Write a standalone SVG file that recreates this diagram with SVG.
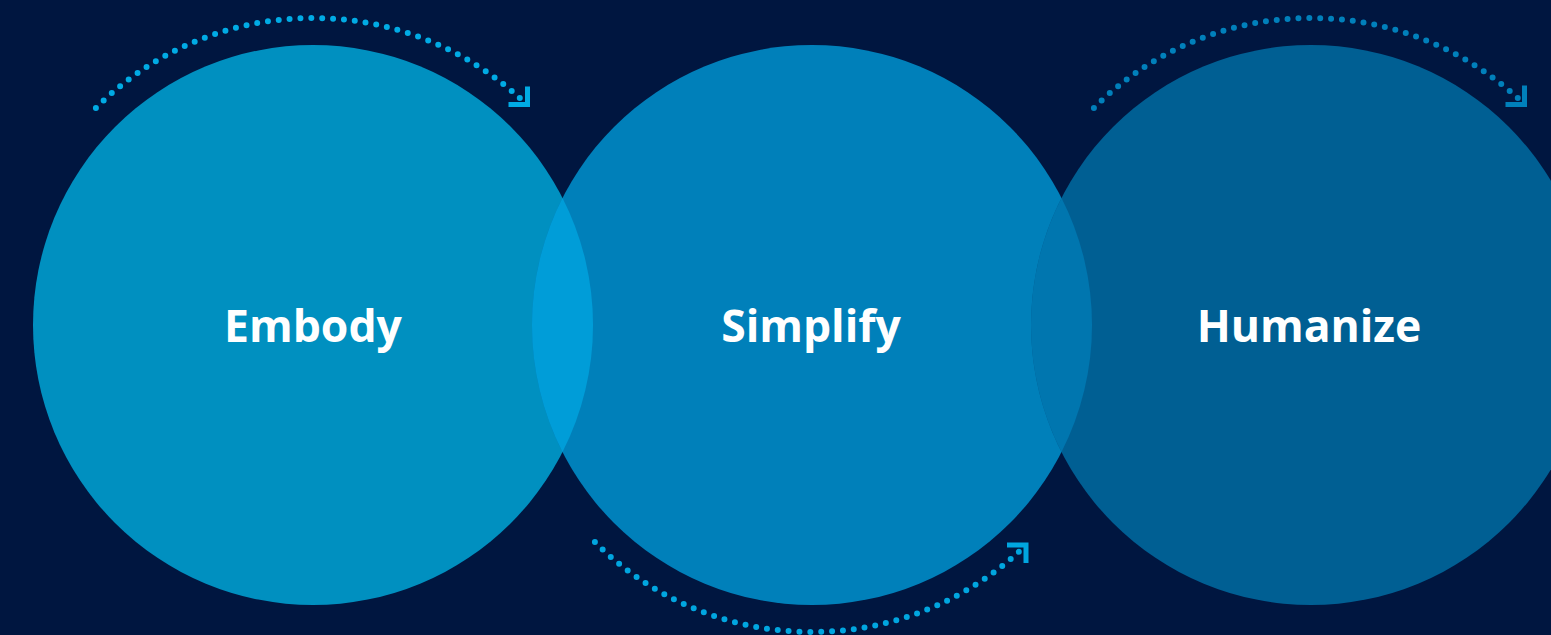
<svg xmlns="http://www.w3.org/2000/svg" width="1551" height="635" viewBox="0 0 1551 635">
<style>
.lbl{font-family:"Open Sans","Noto Sans","DejaVu Sans",sans-serif;font-weight:700;font-size:44.5px;fill:#ffffff;text-anchor:middle}
.dots{fill:none;stroke-width:6;stroke-linecap:round;stroke-dasharray:0 10.88}
.head{fill:none;stroke-width:5;stroke-linecap:butt;stroke-linejoin:miter}
</style>
<rect x="0" y="0" width="1551" height="635" fill="#001640"/>
<g id="embody">
<circle cx="313" cy="325" r="280" fill="#0090c0"/>
</g>
<g id="simplify">
<circle cx="812" cy="325" r="280" fill="#0080ba"/>
</g>
<g id="humanize">
<circle cx="1311" cy="325" r="280" fill="#005f93"/>
</g>
<g id="overlaps">
<path d="M562.5,197.9 A280,280 0 0 1 562.5,452.1 A280,280 0 0 1 562.5,197.9 Z" fill="#009dd8"/>
<path d="M1061.5,197.9 A280,280 0 0 1 1061.5,452.1 A280,280 0 0 1 1061.5,197.9 Z" fill="#0076af"/>
</g>
<g id="labels">
<text class="lbl" x="313" y="342">Embody</text>
<text class="lbl" x="811" y="342">Simplify</text>
<text class="lbl" x="1309" y="342">Humanize</text>
</g>
<g id="connectors">
<path class="dots" stroke="#00abe5" d="M95.9,107.9 A307,307 0 0 1 520,98.3"/>
<polyline class="head" stroke="#00abe5" points="508.5,104.5 527.5,104.5 527.5,86.5"/>
<path class="dots" stroke="#00a6e0" d="M594.9,542.1 A307,307 0 0 0 1019.4,551.3"/>
<polyline class="head" stroke="#00a6e0" points="1007,545 1026,545 1026,563"/>
<path class="dots" stroke="#0080bb" d="M1093.9,107.9 A307,307 0 0 1 1518,98.3"/>
<polyline class="head" stroke="#0080bb" points="1505.5,104.5 1524.5,104.5 1524.5,85.5"/>
</g>
</svg>
